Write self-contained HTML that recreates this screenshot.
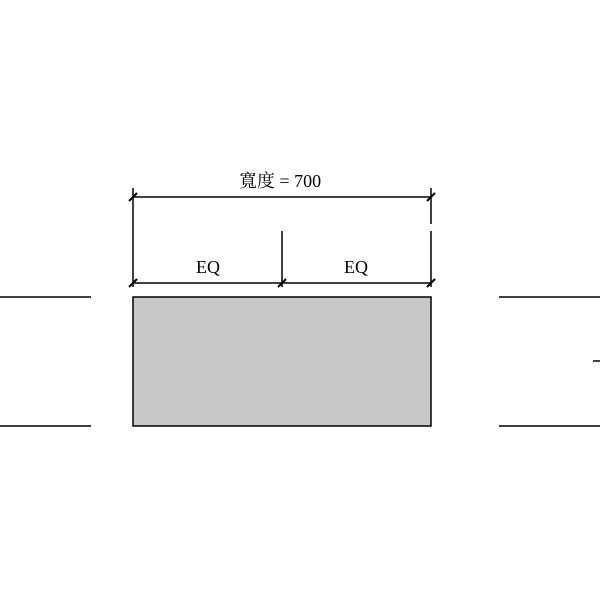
<!DOCTYPE html>
<html><head><meta charset="utf-8"><style>html,body{margin:0;padding:0;background:#fff;width:600px;height:600px;overflow:hidden}</style></head>
<body>
<svg width="600" height="600" viewBox="0 0 600 600" xmlns="http://www.w3.org/2000/svg">
<g stroke="#000" stroke-width="1.5" fill="none">
<line x1="0" y1="297" x2="91" y2="297"/>
<line x1="0" y1="426" x2="91" y2="426"/>
<line x1="499" y1="297" x2="600" y2="297"/>
<line x1="499" y1="426" x2="600" y2="426"/>
<line x1="593" y1="361" x2="600" y2="361"/>
<rect x="133" y="297" width="298" height="129" fill="#c8c8c8"/>
<line x1="133" y1="188" x2="133" y2="287"/>
<line x1="431" y1="188" x2="431" y2="224"/>
<line x1="431" y1="231" x2="431" y2="287"/>
<line x1="282" y1="231" x2="282" y2="287"/>
<line x1="133" y1="197" x2="431" y2="197"/>
<line x1="133" y1="283" x2="431" y2="283"/>
<g stroke-width="2">
<line x1="129" y1="201" x2="137" y2="193"/>
<line x1="427" y1="201" x2="435" y2="193"/>
<line x1="129" y1="287" x2="137" y2="279"/>
<line x1="278" y1="287" x2="286" y2="279"/>
<line x1="427" y1="287" x2="435" y2="279"/>
</g>
</g>
<g font-family="Liberation Serif, Noto Serif CJK SC, serif" font-size="18" fill="#000" text-anchor="middle">
<text x="280" y="187">寬度 = 700</text>
<text x="208" y="273">EQ</text>
<text x="356" y="273">EQ</text>
</g>
</svg>
</body></html>
